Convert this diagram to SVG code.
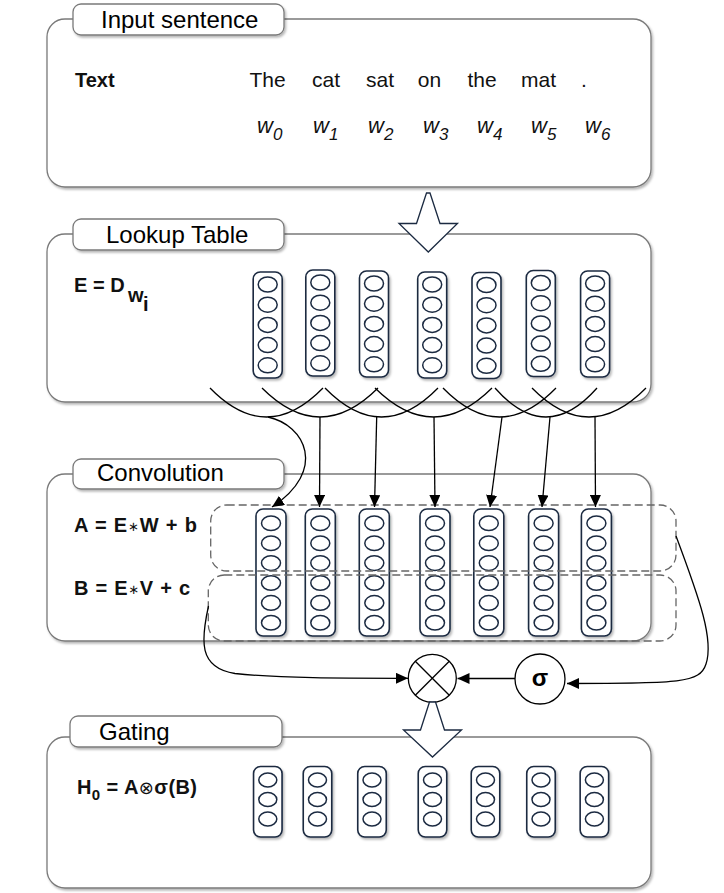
<svg xmlns="http://www.w3.org/2000/svg" xmlns:xlink="http://www.w3.org/1999/xlink" width="724" height="893" viewBox="0 0 724 893">
<style>
.panel{fill:#fff;stroke:#7a7a7a;stroke-width:1.3;filter:url(#sh)}
.tab{fill:#fff;stroke:#7a7a7a;stroke-width:1.3;filter:url(#sh)}
.tabt{font-family:"Liberation Sans",Arial,sans-serif;font-size:24px;fill:#000}
.lbl{font-family:"Liberation Sans",Arial,sans-serif;font-size:20px;font-weight:bold;fill:#111}
.word{font-family:"Liberation Sans",Arial,sans-serif;font-size:21px;fill:#111;text-anchor:middle}
.wi{font-family:"Liberation Sans",Arial,sans-serif;font-size:22px;font-style:italic;fill:#111}
.col{fill:#fff;stroke:#1b2a41;stroke-width:1.6;filter:url(#sh)}
.cell{fill:#fff;stroke:#1b2a41;stroke-width:1.5}
.dash{fill:none;stroke:#666;stroke-width:1.3;stroke-dasharray:8 4}
.con{fill:none;stroke:#000;stroke-width:1.3}
.arr{fill:none;stroke:#000;stroke-width:1.3;marker-end:url(#ah)}
.blk{fill:#fff;stroke:#1b2a41;stroke-width:1.3;stroke-linejoin:miter}
.op{fill:#fff;stroke:#000;stroke-width:1.3}
</style>
<defs>
<filter id="sh" x="-20%" y="-20%" width="140%" height="140%">
<feDropShadow dx="1.5" dy="2" stdDeviation="1.2" flood-color="#000" flood-opacity="0.28"/>
</filter>
<marker id="ah" viewBox="0 0 12 11" refX="12" refY="5.5" markerWidth="12" markerHeight="11" markerUnits="userSpaceOnUse" orient="auto">
<path d="M0,0 L12,5.5 L0,11 z" fill="#000"/>
</marker>
<g id="lcol">
<rect class="col" x="-14.5" y="0" width="29" height="106" rx="7"/>
<ellipse class="cell" cx="0" cy="12.5" rx="9.5" ry="7.5"/>
<ellipse class="cell" cx="0" cy="32.7" rx="9.5" ry="7.5"/>
<ellipse class="cell" cx="0" cy="52.9" rx="9.5" ry="7.5"/>
<ellipse class="cell" cx="0" cy="73.1" rx="9.5" ry="7.5"/>
<ellipse class="cell" cx="0" cy="93.3" rx="9.5" ry="7.5"/>
</g>
<g id="ccol">
<rect class="col" x="-15" y="0" width="30" height="127" rx="7"/>
<ellipse class="cell" cx="0" cy="14.3" rx="9.5" ry="7.3"/>
<ellipse class="cell" cx="0" cy="34.2" rx="9.5" ry="7.3"/>
<ellipse class="cell" cx="0" cy="54.1" rx="9.5" ry="7.3"/>
<ellipse class="cell" cx="0" cy="74" rx="9.5" ry="7.3"/>
<ellipse class="cell" cx="0" cy="93.9" rx="9.5" ry="7.3"/>
<ellipse class="cell" cx="0" cy="113.8" rx="9.5" ry="7.3"/>
</g>
<g id="gcol">
<rect class="col" x="-14.25" y="0" width="28.5" height="70.5" rx="7"/>
<ellipse class="cell" cx="0" cy="13.5" rx="9" ry="7"/>
<ellipse class="cell" cx="0" cy="33" rx="9" ry="7"/>
<ellipse class="cell" cx="0" cy="52.5" rx="9" ry="7"/>
</g>
</defs>
<rect width="724" height="893" fill="#fff"/>

<g id="input-sentence">
<rect class="panel" x="47" y="19" width="604" height="168" rx="18"/>
<rect class="tab" x="73" y="4" width="211" height="31" rx="8"/>
<text class="tabt" x="101" y="28">Input sentence</text>
<text class="lbl" x="75" y="87">Text</text>
<text class="word" x="267.5" y="87">The</text>
<text class="word" x="326" y="87">cat</text>
<text class="word" x="380" y="87">sat</text>
<text class="word" x="429.5" y="87">on</text>
<text class="word" x="482" y="87">the</text>
<text class="word" x="538.5" y="87">mat</text>
<text class="word" x="584" y="87">.</text>
<text class="wi" x="257" y="133">w<tspan font-size="17" dy="7">0</tspan></text>
<text class="wi" x="313" y="133">w<tspan font-size="17" dy="7">1</tspan></text>
<text class="wi" x="368" y="133">w<tspan font-size="17" dy="7">2</tspan></text>
<text class="wi" x="423" y="133">w<tspan font-size="17" dy="7">3</tspan></text>
<text class="wi" x="477" y="133">w<tspan font-size="17" dy="7">4</tspan></text>
<text class="wi" x="531" y="133">w<tspan font-size="17" dy="7">5</tspan></text>
<text class="wi" x="585" y="133">w<tspan font-size="17" dy="7">6</tspan></text>
</g>

<g id="lookup-table">
<rect class="panel" x="47" y="234" width="604" height="168" rx="18"/>
<rect class="tab" x="73" y="219" width="211" height="31" rx="8"/>
<text class="tabt" x="106" y="243">Lookup Table</text>
<text class="lbl" x="74" y="292">E = D</text>
<text class="lbl" x="128" y="302" font-size="16">w</text>
<text class="lbl" x="143" y="311" font-size="16">i</text>
</g>

<g id="lookup-columns">
<use xlink:href="#lcol" x="267.7" y="272"/>
<use xlink:href="#lcol" x="320.3" y="270"/>
<use xlink:href="#lcol" x="374" y="271"/>
<use xlink:href="#lcol" x="432.2" y="272"/>
<use xlink:href="#lcol" x="486.5" y="272.5"/>
<use xlink:href="#lcol" x="540.8" y="270.5"/>
<use xlink:href="#lcol" x="595.1" y="271"/>
</g>

<g id="arrow-input-lookup">
<polygon class="blk" points="426.5,193 430,193 440,223.5 457.5,223.5 428.3,252 399,223.5 416.5,223.5"/>
</g>

<g id="convolution">
<rect class="panel" x="47" y="474" width="604" height="167" rx="18"/>
<rect class="tab" x="73" y="459" width="211" height="30" rx="8"/>
<text class="tabt" x="97" y="481">Convolution</text>
<text class="lbl" x="74" y="532" font-size="21" textLength="123" lengthAdjust="spacing">A = E<tspan font-family="'DejaVu Sans',sans-serif" font-weight="normal" font-size="13" dy="-1">∗</tspan><tspan dy="1">W + b</tspan></text>
<text class="lbl" x="74" y="595" font-size="21" textLength="116" lengthAdjust="spacing">B = E<tspan font-family="'DejaVu Sans',sans-serif" font-weight="normal" font-size="13" dy="-1">∗</tspan><tspan dy="1">V + c</tspan></text>
</g>

<g id="conv-columns">
<use xlink:href="#ccol" x="271" y="509"/>
<use xlink:href="#ccol" x="320.3" y="509"/>
<use xlink:href="#ccol" x="374.3" y="509"/>
<use xlink:href="#ccol" x="435" y="509"/>
<use xlink:href="#ccol" x="488.8" y="509"/>
<use xlink:href="#ccol" x="543.6" y="509"/>
<use xlink:href="#ccol" x="596.4" y="509"/>
</g>

<g id="group-A">
<rect class="dash" x="210.7" y="505" width="465.3" height="66" rx="16"/>
</g>
<g id="group-B">
<rect class="dash" x="208.3" y="575" width="467.7" height="66" rx="16"/>
</g>

<g id="gating">
<rect class="panel" x="47" y="737" width="604" height="151" rx="18"/>
<rect class="tab" x="70" y="716" width="212" height="31" rx="8"/>
<text class="tabt" x="99" y="740">Gating</text>
<text class="lbl" x="77" y="794" font-size="21" textLength="120" lengthAdjust="spacing">H<tspan font-size="15" dy="6">0</tspan><tspan dy="-6"> = A</tspan><tspan font-weight="normal" font-family="'DejaVu Sans',sans-serif" font-size="18">⊗</tspan><tspan>σ(B)</tspan></text>
</g>

<g id="gating-columns">
<use xlink:href="#gcol" x="267.8" y="766.5"/>
<use xlink:href="#gcol" x="317.5" y="766.5"/>
<use xlink:href="#gcol" x="372" y="766.5"/>
<use xlink:href="#gcol" x="432.5" y="766.5"/>
<use xlink:href="#gcol" x="485.5" y="766.5"/>
<use xlink:href="#gcol" x="541" y="766.5"/>
<use xlink:href="#gcol" x="594.4" y="766.5"/>
</g>

<g id="connectors">
<path class="con" d="M210,388 Q266.5,446 323,388"/>
<path class="con" d="M262,388 Q320,446 378,388"/>
<path class="con" d="M325,388 Q381.5,446 438,388"/>
<path class="con" d="M375,388 Q433.5,446 492,388"/>
<path class="con" d="M443,388 Q499.5,446 556,388"/>
<path class="con" d="M495,388 Q546,446 597,388"/>
<path class="con" d="M532,388 Q589,446 646,388"/>
<path class="arr" d="M268,417 C305,425 328,470 272,507"/>
<path class="arr" d="M320,417 L319.5,507"/>
<path class="arr" d="M376.7,417 L374.5,507"/>
<path class="arr" d="M434,417 L435,507"/>
<path class="arr" d="M502,417 L490,507"/>
<path class="arr" d="M550,417 L542,507"/>
<path class="arr" d="M595,417 L595.5,507"/>
<path class="arr" d="M208.5,606 C201,640 198,668 235,673.5 C280,678.5 350,678.3 408,678.3"/>
<path class="arr" d="M515,678.5 L457.5,678.5"/>
<path class="arr" d="M676,536 C700,600 714,640 706,664 C700,683 680,683.5 567,683.5"/>
</g>

<g id="multiply">
<circle class="op" cx="432.3" cy="678.3" r="24"/>
<line x1="415.3" y1="661.3" x2="449.3" y2="695.3" stroke="#000" stroke-width="1.3"/>
<line x1="449.3" y1="661.3" x2="415.3" y2="695.3" stroke="#000" stroke-width="1.3"/>
</g>

<g id="sigma">
<circle class="op" cx="540" cy="679" r="25"/>
<text x="540" y="686" font-family="'Liberation Sans',Arial,sans-serif" font-size="24" font-weight="bold" text-anchor="middle">σ</text>
</g>

<g id="arrow-conv-gating">
<polygon class="blk" points="429.5,702 435.5,702 444.5,730 461.5,730 432.5,757 403.5,730 420.5,730"/>
</g>
</svg>
